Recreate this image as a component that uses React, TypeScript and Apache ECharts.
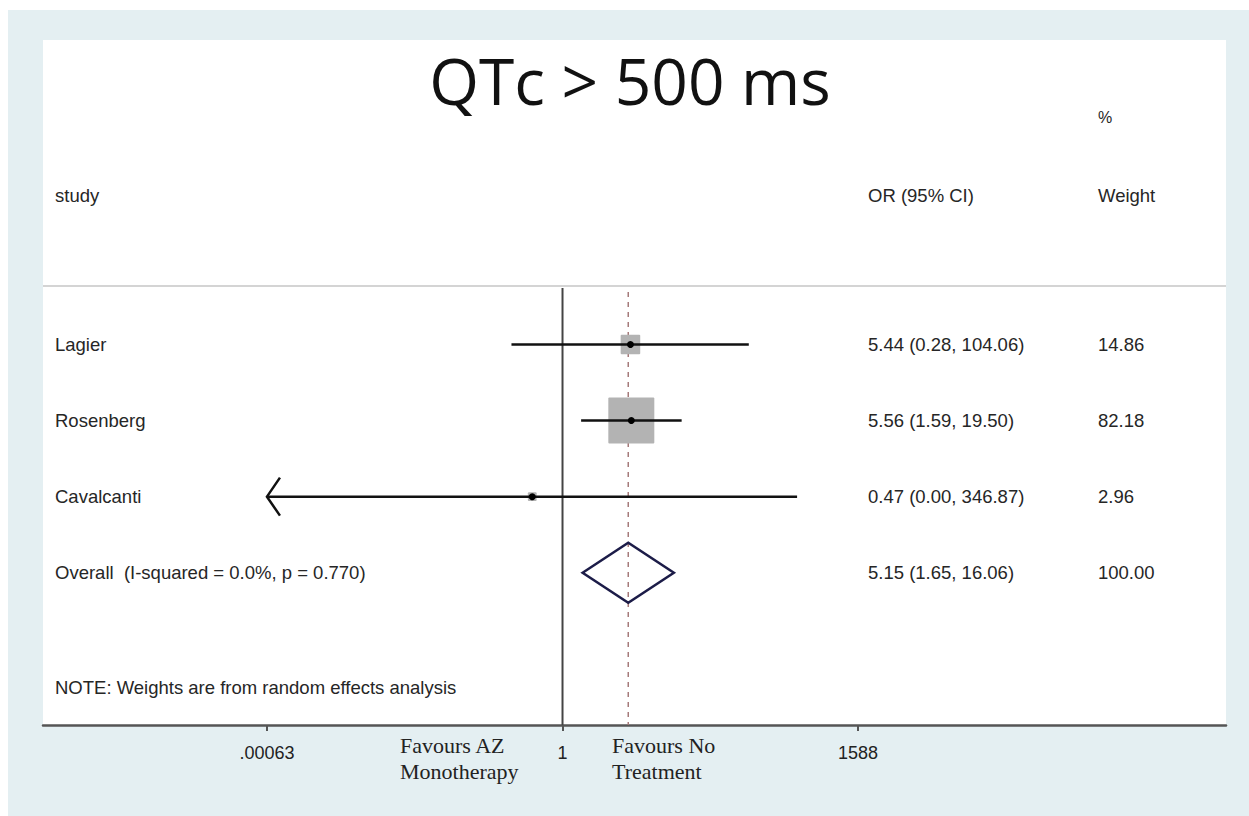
import React, { useEffect, useRef } from "react";
import * as echarts from "echarts";

// ---- data ----
const studies = ["Lagier", "Rosenberg", "Cavalcanti"];
const orEst = [5.44, 5.56, 0.47];
const ciLow = [0.28, 1.59, 0.0];
const ciHigh = [104.06, 19.5, 346.87];
const weights = [14.86, 82.18, 2.96];

const overallLabel = "Overall  (I-squared = 0.0%, p = 0.770)";
const overallEst = [5.15];
const overallLow = [1.65];
const overallHigh = [16.06];
const overallWeight = [100.0];

const tickValues = [0.00063, 1, 1588];
const tickLabels = [".00063", "1", "1588"];

const titleText = "QTc > 500 ms";
const noteText = "NOTE: Weights are from random effects analysis";

const SANS = "Liberation Sans, Arial, sans-serif";
const SERIF = "Liberation Serif, Times New Roman, serif";
const TXT = "#262626";
const FS = 18.5;

const fmt = (v: number) => v.toFixed(2);
const lg = (v: number) => Math.log10(v);

export default function App() {
  const ref = useRef<HTMLDivElement>(null);

  useEffect(() => {
    if (!ref.current) return;
    const chart = echarts.init(ref.current, undefined, { renderer: "svg" });

    const xMin = -5.626;
    const xMax = 7.185;
    const dispMin = lg(tickValues[0]);

    const rowData = studies.map((s, i) => [
      4 + i,
      lg(orEst[i]),
      ciLow[i] > 0 ? lg(ciLow[i]) : -Infinity,
      lg(ciHigh[i]),
      weights[i],
      i,
    ]);

    const boxK = 46 / Math.sqrt(82.18);

    const textStyle = (text: string, x: number, y: number) => ({
      text, x, y, fill: TXT, fontSize: FS, fontFamily: SANS,
      align: "left", verticalAlign: "middle", textAlign: "left", textVerticalAlign: "middle",
    });

    const renderRow = (params: any, api: any) => {
      const i = params.dataIndex;
      const row = rowData[i];
      const y = row[0] as number;
      const est = row[1] as number;
      const loRaw = row[2] as number;
      const hi = row[3] as number;
      const w = row[4] as number;
      const clipped = !(loRaw >= dispMin);
      const lo = clipped ? dispMin : loRaw;
      const pEst = api.coord([est, y]);
      const pLo = api.coord([lo, y]);
      const pHi = api.coord([hi, y]);
      const size = boxK * Math.sqrt(w);
      const children: any[] = [
        {
          type: "rect",
          shape: { x: pEst[0] - size / 2, y: pEst[1] - size / 2, width: size, height: size, r: 1 },
          style: { fill: "#b3b3b3" },
        },
        {
          type: "line",
          shape: { x1: pLo[0], y1: pLo[1], x2: pHi[0], y2: pHi[1] },
          style: { stroke: "#111", lineWidth: 2.5 },
        },
        {
          type: "circle",
          shape: { cx: pEst[0], cy: pEst[1], r: 3.5 },
          style: { fill: "#000" },
        },
        { type: "text", style: textStyle(studies[i], 55, pEst[1]) },
        { type: "text", style: textStyle(`${fmt(orEst[i])} (${fmt(ciLow[i])}, ${fmt(ciHigh[i])})`, 868, pEst[1]) },
        { type: "text", style: textStyle(fmt(weights[i]), 1098, pEst[1]) },
      ];
      if (clipped) {
        children.push({
          type: "polyline",
          shape: { points: [[pLo[0] + 13, pLo[1] - 19], [pLo[0], pLo[1]], [pLo[0] + 13, pLo[1] + 19]] },
          style: { stroke: "#111", lineWidth: 2.5, fill: "none" },
        });
      }
      return { type: "group", children };
    };

    const overallData = overallEst.map((e, i) => [7, lg(e), lg(overallLow[i]), lg(overallHigh[i]), overallWeight[i]]);

    const renderOverall = (params: any, api: any) => {
      const i = params.dataIndex;
      const d = overallData[i];
      const pE = api.coord([d[1], d[0]]);
      const pL = api.coord([d[2], d[0]]);
      const pH = api.coord([d[3], d[0]]);
      const hh = 30;
      return {
        type: "group",
        children: [
          {
            type: "polygon",
            shape: { points: [[pL[0], pL[1]], [pE[0], pE[1] - hh], [pH[0], pH[1]], [pE[0], pE[1] + hh]] },
            style: { stroke: "#1c1c48", lineWidth: 2.5, fill: "none" },
          },
          { type: "text", style: textStyle(overallLabel, 55, pE[1]) },
          { type: "text", style: textStyle(`${fmt(overallEst[i])} (${fmt(overallLow[i])}, ${fmt(overallHigh[i])})`, 868, pE[1]) },
          { type: "text", style: textStyle(fmt(overallWeight[i]), 1098, pE[1]) },
        ],
      };
    };

    const txt = (text: string, x: number, y: number, extra: any = {}) => ({
      type: "text",
      x,
      y,
      style: {
        text, fill: TXT, fontSize: FS, fontFamily: SANS,
        align: "left", verticalAlign: "middle", textAlign: "left", textVerticalAlign: "middle",
        ...extra,
      },
      z: 10,
    });

    const option: any = {
      animation: false,
      backgroundColor: "#ffffff",
      grid: { left: 43, right: 23, top: 40, bottom: 91, containLabel: false },
      xAxis: {
        type: "value",
        min: xMin,
        max: xMax,
        splitLine: { show: false },
        axisLine: { show: true, onZero: false, lineStyle: { color: "#555", width: 2.5 } },
        axisTick: {
          show: true,
          length: 6,
          inside: false,
          customValues: tickValues.map(lg),
          lineStyle: { color: "#555", width: 2 },
        },
        axisLabel: {
          show: true,
          margin: 19,
          customValues: tickValues.map(lg),
          color: "#222",
          fontSize: 18,
          fontFamily: SANS,
          formatter: (v: number) => {
            let best = 0;
            tickValues.forEach((t, i) => {
              if (Math.abs(lg(t) - v) < Math.abs(lg(tickValues[best]) - v)) best = i;
            });
            return tickLabels[best];
          },
        },
      },
      yAxis: {
        type: "value",
        min: 0,
        max: 9,
        inverse: true,
        show: false,
      },
      graphic: [
        { type: "rect", shape: { x: 8, y: 10, width: 1241, height: 806 }, style: { fill: "#e4eff2" }, z: -10, silent: true },
        { type: "rect", shape: { x: 43, y: 40, width: 1183, height: 685 }, style: { fill: "#ffffff" }, z: -9, silent: true },
        { type: "line", shape: { x1: 43, y1: 286, x2: 1226, y2: 286 }, style: { stroke: "#d4d4d4", lineWidth: 2 }, z: 1 },
        txt(titleText, 630, 80, { fontSize: 64, fontFamily: "Open Sans, Noto Sans, sans-serif", fill: "#111", align: "center", textAlign: "center" }),
        txt("%", 1098, 117, { fontSize: 16 }),
        txt("study", 55, 195),
        txt("OR (95% CI)", 868, 195),
        txt("Weight", 1098, 195),
        txt(noteText, 55, 687),
        txt("Favours AZ", 400, 745, { fontSize: 22, fontFamily: SERIF, fill: "#222" }),
        txt("Monotherapy", 400, 771, { fontSize: 22, fontFamily: SERIF, fill: "#222" }),
        txt("Favours No", 612, 745, { fontSize: 22, fontFamily: SERIF, fill: "#222" }),
        txt("Treatment", 612, 771, { fontSize: 22, fontFamily: SERIF, fill: "#222" }),
      ],
      series: [
        {
          type: "line",
          data: [[0, 3.26], [0, 9]],
          symbol: "none",
          lineStyle: { color: "#444", width: 2 },
          z: 2,
        },
        {
          type: "line",
          data: [[lg(overallEst[0]), 3.31], [lg(overallEst[0]), 9]],
          symbol: "none",
          lineStyle: { color: "#a57a7a", width: 1.5, type: [5, 5] },
          z: 2,
        },
        {
          type: "custom",
          data: rowData.map((r) => [r[1], r[0]]),
          renderItem: renderRow,
          z: 3,
        },
        {
          type: "custom",
          data: overallData.map((r) => [r[1], r[0]]),
          renderItem: renderOverall,
          z: 3,
        },
      ],
    };

    chart.setOption(option);
    return () => chart.dispose();
  }, []);

  return (
    <div
      ref={ref}
      style={{ position: "absolute", left: 0, top: 0, width: 1249, height: 816 }}
    />
  );
}
